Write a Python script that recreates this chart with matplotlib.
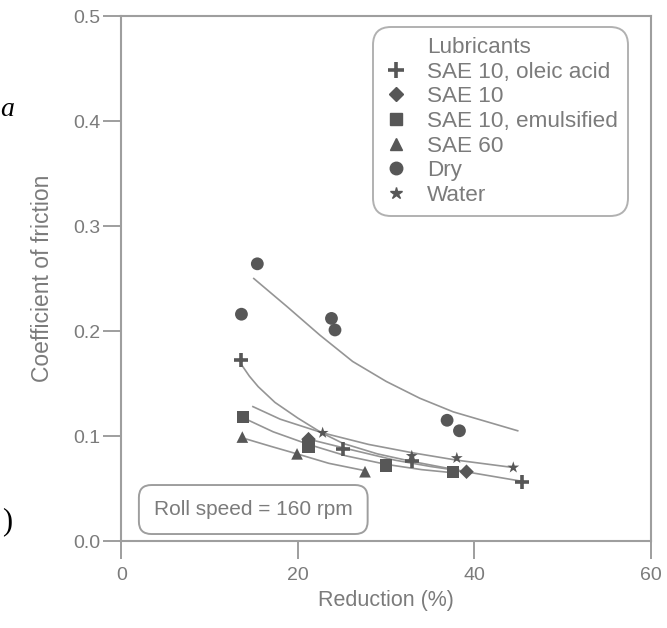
import matplotlib
matplotlib.use('Agg')
from matplotlib import pyplot as plt
from matplotlib.lines import Line2D
import numpy as np

# markers (reduction %, coefficient of friction)
oleic_x = [13.6, 25.1, 32.9, 45.4]
oleic_y = [0.172, 0.088, 0.076, 0.056]
sae10_x = [21.2, 39.1]
sae10_y = [0.097, 0.066]
emuls_x = [13.8, 21.2, 30.0, 37.6]
emuls_y = [0.118, 0.090, 0.072, 0.066]
sae60_x = [13.7, 19.9, 27.6]
sae60_y = [0.099, 0.083, 0.066]
dry_x = [15.4, 13.6, 23.8, 24.2, 36.9, 38.3]
dry_y = [0.264, 0.216, 0.212, 0.201, 0.115, 0.105]
water_x = [22.8, 32.9, 38.0, 44.4]
water_y = [0.103, 0.081, 0.079, 0.070]

# fitted curves
dry_cx = [15.0, 18.8, 22.5, 26.2, 30.0, 33.8, 37.6, 44.9]
dry_cy = [0.250, 0.223, 0.196, 0.171, 0.152, 0.136, 0.123, 0.105]
oleic_cx = [13.6, 14.5, 15.5, 17.4, 20.0, 22.7, 25.1, 29.0, 32.8, 39.0, 45.3]
oleic_cy = [0.168, 0.157, 0.147, 0.132, 0.117, 0.103, 0.093, 0.083, 0.076, 0.066, 0.057]
water_cx = [14.9, 18.0, 22.8, 28.0, 33.0, 38.0, 44.4]
water_cy = [0.128, 0.116, 0.103, 0.092, 0.084, 0.077, 0.070]
emuls_cx = [14.4, 17.2, 21.2, 25.5, 30.0, 34.0, 37.6]
emuls_cy = [0.115, 0.104, 0.092, 0.081, 0.073, 0.068, 0.065]
sae60_cx = [14.2, 17.0, 19.9, 23.5, 27.6]
sae60_cy = [0.097, 0.090, 0.083, 0.074, 0.067]
sae10_cx = [21.2, 26.0, 31.0, 35.0, 39.1]
sae10_cy = [0.097, 0.087, 0.077, 0.071, 0.066]

labels = ['SAE 10, oleic acid', 'SAE 10', 'SAE 10, emulsified', 'SAE 60', 'Dry', 'Water']
markers = ['+', 'D', 's', '^', 'o', '*']

plt.rcParams['font.family'] = ['Liberation Sans', 'DejaVu Sans']
txt = '#7b7b7b'
lc = '#959595'
mc = '#575757'
ax_c = '#9e9e9e'

fig = plt.figure(figsize=(6.67, 6.28), dpi=100)
ax = fig.add_axes([0.182, 0.1385, 0.794, 0.836])

for cx, cy in [(dry_cx, dry_cy), (oleic_cx, oleic_cy), (water_cx, water_cy),
               (emuls_cx, emuls_cy), (sae60_cx, sae60_cy), (sae10_cx, sae10_cy)]:
    ax.plot(cx, cy, color=lc, lw=1.2, zorder=2)

series = [(oleic_x, oleic_y), (sae10_x, sae10_y), (emuls_x, emuls_y),
          (sae60_x, sae60_y), (dry_x, dry_y), (water_x, water_y)]
sizes = [110, 55, 80, 70, 85, 80]
for (xs, ys), m, s in zip(series, markers, sizes):
    if m == '+':
        ax.scatter(xs, ys, marker=m, s=s, color=mc, linewidths=2.6, zorder=3)
    else:
        ax.scatter(xs, ys, marker=m, s=s, color=mc, edgecolors='none', zorder=3)

ax.set_xlim(0, 60)
ax.set_ylim(0, 0.5)
ax.set_xticks([0, 20, 40, 60])
ax.set_yticks([0.0, 0.1, 0.2, 0.3, 0.4, 0.5])
ax.set_yticklabels(['0.0', '0.1', '0.2', '0.3', '0.4', '0.5'])
ax.tick_params(direction='out', length=13, width=1.4, color=ax_c,
               labelcolor=txt, labelsize=14)
ax.tick_params(axis='y', pad=2)
ax.tick_params(axis='x', pad=6)
for sp in ax.spines.values():
    sp.set_color(ax_c)
    sp.set_linewidth(1.5)

ax.set_xlabel('Reduction (%)', color=txt, fontsize=15.5, labelpad=4)
ax.set_ylabel('Coefficient of friction', color=txt, fontsize=16.5, labelpad=14)

handles = [Line2D([], [], linestyle='none', marker=None)]
for m in markers:
    if m == '+':
        handles.append(Line2D([], [], linestyle='none', marker='+', color=mc,
                              markersize=11, markeredgewidth=2.6))
    else:
        handles.append(Line2D([], [], linestyle='none', marker=m, color=mc,
                              markersize=9 if m != 'D' else 7))
leg = ax.legend(handles, ['Lubricants'] + labels, loc='upper right',
                bbox_to_anchor=(0.957, 0.979), borderaxespad=0,
                fontsize=16.2, labelspacing=0.16, handlelength=1.15,
                handletextpad=0.8, borderpad=0.45, frameon=True, fancybox=True)
for t in leg.get_texts():
    t.set_color(txt)
fr = leg.get_frame()
fr.set_edgecolor(ax_c)
fr.set_linewidth(1.4)
fr.set_boxstyle('round,pad=0,rounding_size=0.8')

ax.text(0.249, 0.06, 'Roll speed = 160 rpm', transform=ax.transAxes,
        ha='center', va='center', fontsize=15, color=txt,
        bbox=dict(boxstyle='round,pad=0.72,rounding_size=0.6',
                  fc='white', ec=ax_c, lw=1.4))

# stray characters from the neighbouring page of the scan
fig.text(0.0, 1 - 110 / 628, 'a', fontsize=20, style='italic',
         family='Liberation Serif', ha='left', va='center')
fig.text(0.003, 1 - 522 / 628, ')', fontsize=22,
         family='Liberation Serif', ha='left', va='center')

fig.savefig('out.png', dpi=100)
